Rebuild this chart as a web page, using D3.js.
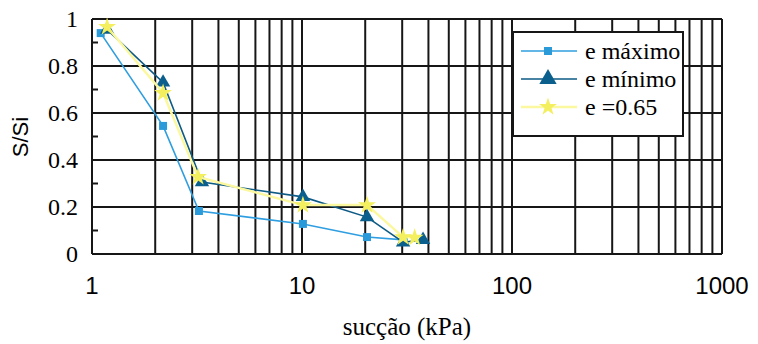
<!DOCTYPE html>
<html><head><meta charset="utf-8">
<script src="https://cdn.jsdelivr.net/npm/d3@7"></script>
<style>body{margin:0;background:#fff}svg{display:block}
.serif{font-family:"Liberation Serif","Times New Roman",serif}
.sans{font-family:"Liberation Sans",Arial,sans-serif}</style>
</head><body>
<svg id="c" width="758" height="344"></svg>
<script>
const seriesNames = ["e máximo", "e mínimo", "e =0.65"];
const maxX = [1.1, 2.18, 3.23, 10.1, 20.4, 30.5];
const maxY = [0.94, 0.545, 0.183, 0.128, 0.072, 0.06];
const minX = [1.18, 2.18, 3.34, 10.1, 20.4, 30.3, 37.7];
const minY = [0.955, 0.73, 0.306, 0.243, 0.157, 0.05, 0.06];
const midX = [1.18, 2.18, 3.2, 10.1, 20.4, 30.3, 34.4];
const midY = [0.966, 0.685, 0.328, 0.208, 0.208, 0.072, 0.07];
const xTicks = [1, 10, 100, 1000];
const yTicks = [0, 0.2, 0.4, 0.6, 0.8, 1];
const yMinor = [0.1, 0.3, 0.5, 0.7, 0.9];

const svg = d3.select("#c");
const L = 92, R = 722, T = 19, B = 254;
const x = d3.scaleLog().domain([1, 1000]).range([L, R]);
const y = d3.scaleLinear().domain([0, 1]).range([B, T]);

const grid = svg.append("g").attr("stroke", "#161616").attr("stroke-width", 2);
const vx = [];
for (let d = 1; d < 1000; d *= 10) for (let k = 1; k <= 10; k++) vx.push(d * k);
grid.selectAll("line.v").data(vx).join("line")
  .attr("x1", d => x(d)).attr("x2", d => x(d)).attr("y1", T).attr("y2", B);
grid.selectAll("line.h").data(yTicks).join("line").attr("class","h")
  .attr("x1", L).attr("x2", R).attr("y1", d => y(d)).attr("y2", d => y(d));
grid.selectAll("line.m").data(yMinor).join("line").attr("class","m")
  .attr("x1", L).attr("x2", L + 6).attr("y1", d => y(d)).attr("y2", d => y(d));

svg.append("g").selectAll("text").data(yTicks).join("text").attr("class", "serif")
  .attr("x", 78).attr("y", d => y(d) + 8).attr("text-anchor", "end")
  .attr("font-size", 24).text(d => d);
svg.append("g").selectAll("text").data(xTicks).join("text").attr("class", "sans")
  .attr("x", d => x(d)).attr("y", 294).attr("text-anchor", "middle")
  .attr("font-size", 24).text(d => d);
svg.append("text").attr("class", "serif").attr("x", 407).attr("y", 335).attr("text-anchor", "middle")
  .attr("font-size", 25).text("sucção (kPa)");
svg.append("text").attr("class", "sans").attr("transform", "translate(28,137) rotate(-90)").attr("text-anchor", "middle")
  .attr("font-size", 22).text("S/Si");

const colors = ["#2a9ad8", "#0b5f8c", "#f3ef5e"];
const lineCol = ["#2f9ee0", "#0d5a85", "#fbf8a0"];
const series = [
  {xs: maxX, ys: maxY, sym: d3.symbolSquare, size: 64},
  {xs: minX, ys: minY, sym: d3.symbolTriangle, size: 90},
  {xs: midX, ys: midY, sym: d3.symbolStar, size: 100}
];
const line = d3.line().x(d => x(d[0])).y(d => y(d[1]));
[0, 1, 2].forEach(i => {
  const s = series[i];
  const pts = s.xs.map((v, j) => [v, s.ys[j]]);
  svg.append("path").attr("d", line(pts)).attr("fill", "none")
    .attr("stroke", lineCol[i]).attr("stroke-width", i === 2 ? 2.5 : 1.6);
  svg.append("g").selectAll("path").data(pts).join("path")
    .attr("transform", d => `translate(${x(d[0])},${y(d[1])})`)
    .attr("d", d3.symbol().type(s.sym).size(s.size)).attr("fill", colors[i]);
});

const lg = svg.append("g");
svg.append("clipPath").attr("id", "lgclip").append("rect")
  .attr("x", 513).attr("y", 32).attr("width", 169).attr("height", 104);
lg.append("rect").attr("x", 513).attr("y", 32).attr("width", 170).attr("height", 104)
  .attr("fill", "#fff");
const ly = [51, 79, 107];
seriesNames.forEach((n, i) => {
  lg.append("line").attr("x1", 521).attr("x2", 577).attr("y1", ly[i]).attr("y2", ly[i])
    .attr("stroke", lineCol[i]).attr("stroke-width", i === 2 ? 2.5 : 1.6);
  lg.append("path").attr("transform", `translate(548,${ly[i]})`)
    .attr("d", d3.symbol().type(series[i].sym).size(series[i].size + (i === 1 ? 40 : 0))).attr("fill", colors[i]);
  lg.append("text").attr("class", "serif").attr("x", 585).attr("y", ly[i] + 8)
    .attr("clip-path", "url(#lgclip)").attr("font-size", 24).text(n);
});
lg.append("rect").attr("x", 513).attr("y", 32).attr("width", 170).attr("height", 104)
  .attr("fill", "none").attr("stroke", "#161616").attr("stroke-width", 2);
</script>
</body></html>
